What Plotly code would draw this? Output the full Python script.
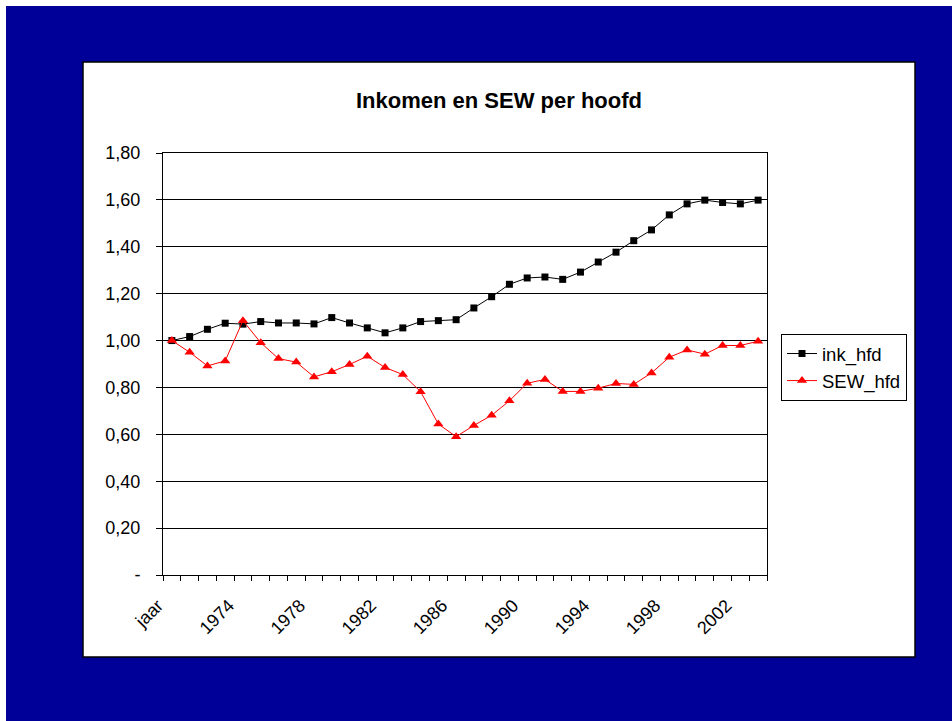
import plotly.graph_objects as go

# categorieën op de x-as (eerste label is "jaar" zoals in het origineel)
years = ["jaar"] + [str(y) for y in range(1971, 2004)]

ink_hfd = [1.00, 1.017, 1.048, 1.074, 1.070, 1.081, 1.075, 1.075, 1.071, 1.098,
           1.075, 1.054, 1.033, 1.054, 1.081, 1.085, 1.089, 1.139, 1.187, 1.240,
           1.267, 1.271, 1.261, 1.292, 1.335, 1.377, 1.426, 1.472, 1.536, 1.583,
           1.599, 1.589, 1.583, 1.599]

sew_hfd = [1.00, 0.950, 0.892, 0.913, 1.085, 0.991, 0.923, 0.908, 0.845, 0.867,
           0.898, 0.933, 0.885, 0.855, 0.782, 0.644, 0.590, 0.638, 0.681, 0.743,
           0.818, 0.834, 0.783, 0.783, 0.797, 0.817, 0.813, 0.862, 0.929, 0.960,
           0.942, 0.979, 0.979, 0.997]

y_tickvals = [0, 0.2, 0.4, 0.6, 0.8, 1.0, 1.2, 1.4, 1.6, 1.8]
y_ticktext = ["-", "0,20", "0,40", "0,60", "0,80", "1,00", "1,20", "1,40", "1,60", "1,80"]

# alleen elk vierde jaar een label
x_ticktext = [c if i % 4 == 0 else "" for i, c in enumerate(years)]

W, H = 952, 721
ML, MR, MT, MB = 163, 185, 153, 146
PW, PH = W - ML - MR, H - MT - MB


def px(x):
    """pixel -> paper x"""
    return (x - ML) / PW


def py(y):
    """pixel -> paper y"""
    return (H - MB - y) / PH


fig = go.Figure()

fig.add_trace(go.Scatter(
    x=years, y=ink_hfd, mode="lines+markers", name="ink_hfd",
    line=dict(color="black", width=1),
    marker=dict(symbol="square", size=7, color="black"),
    legendgroup="a",
))
fig.add_trace(go.Scatter(
    x=years, y=sew_hfd, mode="lines+markers", name="SEW_hfd",
    line=dict(color="#ff0000", width=1),
    marker=dict(symbol="triangle-up", size=9, color="#ff0000"),
    legendgroup="b",
))

# achtergrond: blauw vlak met wit paneel
fig.add_shape(type="rect", xref="paper", yref="paper", layer="below",
              x0=px(6), x1=px(W + 5), y0=py(H + 5), y1=py(6),
              fillcolor="#000099", line=dict(width=0))
fig.add_shape(type="rect", xref="paper", yref="paper", layer="below",
              x0=px(83), x1=px(915), y0=py(657), y1=py(62),
              fillcolor="white", line=dict(color="black", width=1.5))

fig.update_layout(
    width=W, height=H,
    margin=dict(l=ML, r=MR, t=MT, b=MB),
    paper_bgcolor="white",
    plot_bgcolor="white",
    font=dict(family="Liberation Sans, Arial", size=18, color="black"),
    title=dict(text="<b>Inkomen en SEW per hoofd</b>",
               font=dict(size=22, color="black"),
               xref="container", yref="container",
               x=499 / W, y=1 - 100 / H, xanchor="center", yanchor="middle"),
    showlegend=True,
    legend=dict(x=px(781), y=py(334), xanchor="left", yanchor="top",
                bordercolor="black", borderwidth=1, bgcolor="white",
                font=dict(size=18.5), tracegroupgap=0, itemwidth=30),
    xaxis=dict(
        type="category", tickson="boundaries", range=[-0.5, len(years) - 0.5],
        tickvals=years, ticktext=x_ticktext, tickangle=-45,
        ticks="outside", ticklen=5, tickcolor="black",
        showline=True, linecolor="black", linewidth=1, mirror=True,
        showgrid=False, ticklabelstandoff=12, ticklabelshift=-14,
    ),
    yaxis=dict(
        range=[0, 1.8], tickvals=y_tickvals, ticktext=y_ticktext,
        ticks="outside", ticklen=6, tickcolor="black",
        showline=True, linecolor="black", linewidth=1, mirror=True,
        showgrid=True, gridcolor="black", gridwidth=1,
        zeroline=False, ticklabelstandoff=12,
    ),
)

fig.write_html("out.html", config={"displayModeBar": False},
               post_script="document.body.style.margin='0px';")
